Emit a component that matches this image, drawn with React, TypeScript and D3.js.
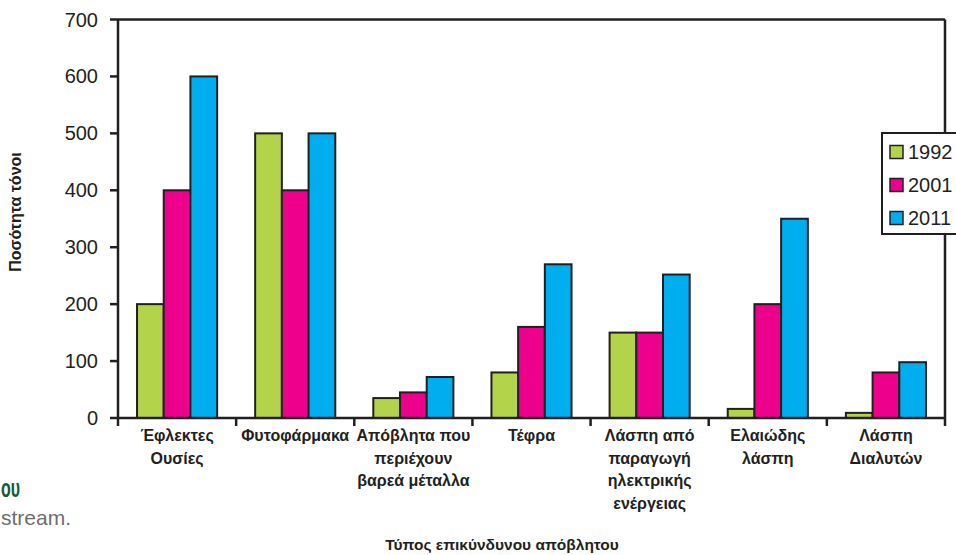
import React from "react";
import * as d3 from "d3";

const categories: string[][] = [
  ["Έφλεκτες", "Ουσίες"],
  ["Φυτοφάρμακα"],
  ["Απόβλητα που", "περιέχουν", "βαρεά μέταλλα"],
  ["Τέφρα"],
  ["Λάσπη από", "παραγωγή", "ηλεκτρικής", "ενέργειας"],
  ["Ελαιώδης", "λάσπη"],
  ["Λάσπη", "Διαλυτών"],
];
const seriesNames = ["1992", "2001", "2011"];
const values1992 = [200, 500, 35, 80, 150, 16, 9];
const values2001 = [400, 400, 45, 160, 150, 200, 80];
const values2011 = [600, 500, 72, 270, 252, 350, 98];
const yTicks = [0, 100, 200, 300, 400, 500, 600, 700];
const colors = ["#b3d34a", "#ec008c", "#00aeef"];

const W = 956;
const H = 555;
const L = 118;
const R = 945;
const T = 19.5;
const B = 418;

export default function App() {
  const series = [values1992, values2001, values2011];
  const x0 = d3
    .scaleBand<number>()
    .domain(categories.map((_, i) => i))
    .range([L, R])
    .paddingInner(0.322)
    .paddingOuter(0.161);
  const x1 = d3.scaleBand<number>().domain([0, 1, 2]).range([0, x0.bandwidth()]);
  const y = d3.scaleLinear().domain([0, 700]).range([B, T]);
  const step = x0.step();
  const stroke = "#231f20";
  const labelFont = "'Liberation Sans', Arial, sans-serif";

  return (
    <svg
      width={W}
      height={H}
      style={{ position: "absolute", left: 0, top: 0, background: "#fff" }}
    >
      {/* stray page text */}
      <text
        x={1}
        y={497}
        fontFamily={labelFont}
        fontWeight="bold"
        fontSize={25}
        fill="#0d5c34"
        textLength={19}
        lengthAdjust="spacingAndGlyphs"
      >
        ου
      </text>
      <text
        x={1}
        y={525}
        fontFamily={labelFont}
        fontSize={21}
        fill="#6d6e71"
        textLength={70}
        lengthAdjust="spacingAndGlyphs"
      >
        stream.
      </text>

      {/* bars */}
      {categories.map((_, ci) =>
        series.map((vals, si) => (
          <rect
            key={`${ci}-${si}`}
            x={(x0(ci) as number) + (x1(si) as number)}
            y={y(vals[ci])}
            width={x1.bandwidth()}
            height={B - y(vals[ci])}
            fill={colors[si]}
            stroke={stroke}
            strokeWidth={2}
          />
        ))
      )}

      {/* frame */}
      <line x1={L} x2={R} y1={T} y2={T} stroke={stroke} strokeWidth={2.5} />
      <line x1={R} x2={R} y1={T} y2={B} stroke={stroke} strokeWidth={2.5} />
      <line x1={L} x2={L} y1={T} y2={B + 1} stroke={stroke} strokeWidth={2.5} />
      <line x1={L - 1} x2={R + 1} y1={B} y2={B} stroke={stroke} strokeWidth={2.5} />

      {/* y ticks */}
      {yTicks.map((t) => (
        <g key={t}>
          <line x1={L - 8} x2={L} y1={y(t)} y2={y(t)} stroke={stroke} strokeWidth={2.5} />
          <text
            x={98}
            y={y(t)}
            dy="0.35em"
            textAnchor="end"
            fontFamily={labelFont}
            fontSize={20}
            fill={stroke}
          >
            {t}
          </text>
        </g>
      ))}

      {/* x ticks */}
      {d3.range(categories.length + 1).map((i) => (
        <line
          key={i}
          x1={L + i * step}
          x2={L + i * step}
          y1={B}
          y2={B + 8}
          stroke={stroke}
          strokeWidth={2.5}
        />
      ))}

      {/* x labels */}
      {categories.map((lines, ci) => (
        <text
          key={ci}
          textAnchor="middle"
          fontFamily={labelFont}
          fontWeight="bold"
          fontSize={16}
          fill={stroke}
        >
          {lines.map((ln, li) => (
            <tspan key={li} x={L + (ci + 0.5) * step} y={441 + li * 22.7}>
              {ln}
            </tspan>
          ))}
        </text>
      ))}

      {/* axis titles */}
      <text
        x={502}
        y={550}
        textAnchor="middle"
        fontFamily={labelFont}
        fontWeight="bold"
        fontSize={15.5}
        fill={stroke}
      >
        Τύπος επικύνδυνου απόβλητου
      </text>
      <text
        transform={`translate(20.5,212) rotate(-90)`}
        textAnchor="middle"
        fontFamily={labelFont}
        fontWeight="bold"
        fontSize={16}
        fill={stroke}
      >
        Ποσότητα τόνοι
      </text>

      {/* legend */}
      <rect x={882} y={133} width={90} height={101} fill="#fff" stroke={stroke} strokeWidth={2} />
      {seriesNames.map((name, i) => (
        <g key={name} transform={`translate(890, ${152 + i * 33})`}>
          <rect x={0} y={-6.5} width={13} height={13} fill={colors[i]} stroke={stroke} strokeWidth={1.5} />
          <text x={18} y={0} dy="0.35em" fontFamily={labelFont} fontSize={20} fill={stroke}>
            {name}
          </text>
        </g>
      ))}
    </svg>
  );
}
